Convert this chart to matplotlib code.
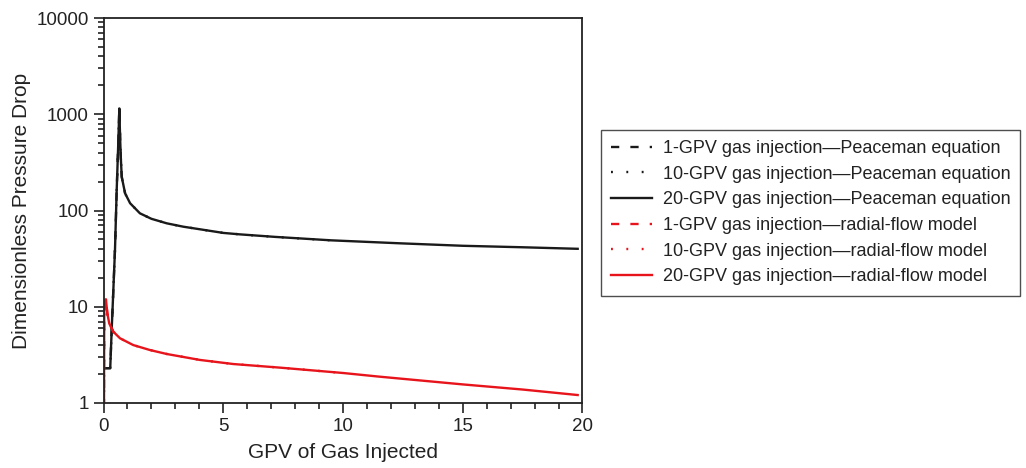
import matplotlib
matplotlib.use("Agg")
import matplotlib.pyplot as plt
from matplotlib.ticker import LogLocator, FixedLocator, NullFormatter

plt.rcParams['font.family'] = ['Liberation Sans', 'DejaVu Sans']

# 20-GPV gas injection - Peaceman equation
x_peace = [0, 0.28, 0.34, 0.41, 0.48, 0.55, 0.62, 0.66, 0.69, 0.72, 0.76, 0.90,
           1.11, 1.52, 2.0, 2.64, 3.33, 4.03, 5.0, 5.7, 7.16, 9.5, 12.4, 15, 17.5, 19.8]
y_peace = [2.3, 2.3, 5.7, 14.9, 40, 163, 540, 1150, 600, 362, 224, 151,
           119, 93.5, 82, 73.6, 67.9, 63.8, 58.5, 56.5, 53.2, 49, 45.6, 43, 41.5, 40]

# 20-GPV gas injection - radial-flow model
x_radial = [0.02, 0.03, 0.06, 0.10, 0.16, 0.24, 0.41, 0.69, 1.24, 1.94, 2.64,
            4.03, 5.42, 7.37, 10, 11.5, 15, 17.5, 19.8]
y_radial = [0.9, 9.2, 11.5, 11.9, 8.5, 6.7, 5.5, 4.7, 4.0, 3.55, 3.23,
            2.8, 2.54, 2.33, 2.05, 1.88, 1.56, 1.38, 1.21]

labels = [
    "1-GPV gas injection\u2014Peaceman equation",
    "10-GPV gas injection\u2014Peaceman equation",
    "20-GPV gas injection\u2014Peaceman equation",
    "1-GPV gas injection\u2014radial-flow model",
    "10-GPV gas injection\u2014radial-flow model",
    "20-GPV gas injection\u2014radial-flow model",
]
ends = [1, 10, 20]

fig = plt.figure(figsize=(10.26, 4.68), dpi=100)
ax = fig.add_axes([0.1009, 0.1389, 0.4668, 0.8226])

styles = [(0, (3.5, 4.7)), (0, (0.8, 5.7)), '-']
for i, (end, ls) in enumerate(zip(ends, styles)):
    xs = [x for x in x_peace if x <= end]
    ys = y_peace[:len(xs)]
    ax.plot(xs, ys, color='#1a1a1a', lw=1.7, ls=ls, label=labels[i])
for i, (end, ls) in enumerate(zip(ends, styles)):
    xs = [x for x in x_radial if x <= end]
    ys = y_radial[:len(xs)]
    ax.plot(xs, ys, color='#e8141c', lw=1.7, ls=ls, label=labels[3 + i])

ax.set_yscale('log')
ax.set_xlim(0, 20)
ax.set_ylim(1, 10000)
ax.set_xticks([0, 5, 10, 15, 20])
ax.xaxis.set_minor_locator(FixedLocator(range(0, 21)))
ax.set_yticks([1, 10, 100, 1000, 10000])
ax.set_yticklabels(['1', '10', '100', '1000', '10000'])
ax.yaxis.set_minor_locator(LogLocator(base=10, subs=range(2, 10)))
ax.yaxis.set_minor_formatter(NullFormatter())
ax.tick_params(which='both', direction='out', top=False, right=False,
               width=1.2, colors='#222222', labelsize=13.5, labelcolor='#222222')
ax.tick_params(which='major', length=7)
ax.tick_params(which='minor', length=4)
for s in ax.spines.values():
    s.set_linewidth(1.3)
    s.set_color('#222222')

ax.set_xlabel("GPV of Gas Injected", fontsize=15, color='#222222', labelpad=6)
ax.set_ylabel("Dimensionless Pressure Drop", fontsize=15, color='#222222', labelpad=4)

leg = ax.legend(loc='upper left', bbox_to_anchor=(0.5858, 0.7222),
                bbox_transform=fig.transFigure, borderaxespad=0,
                fontsize=13.0, frameon=True, fancybox=False, handlelength=2.25,
                handletextpad=0.6, labelspacing=0.48, borderpad=0.56)
leg.get_frame().set_edgecolor('#222222')
leg.get_frame().set_linewidth(1.0)
for t in leg.get_texts():
    t.set_color('#222222')

fig.savefig("out.png", dpi=100)
